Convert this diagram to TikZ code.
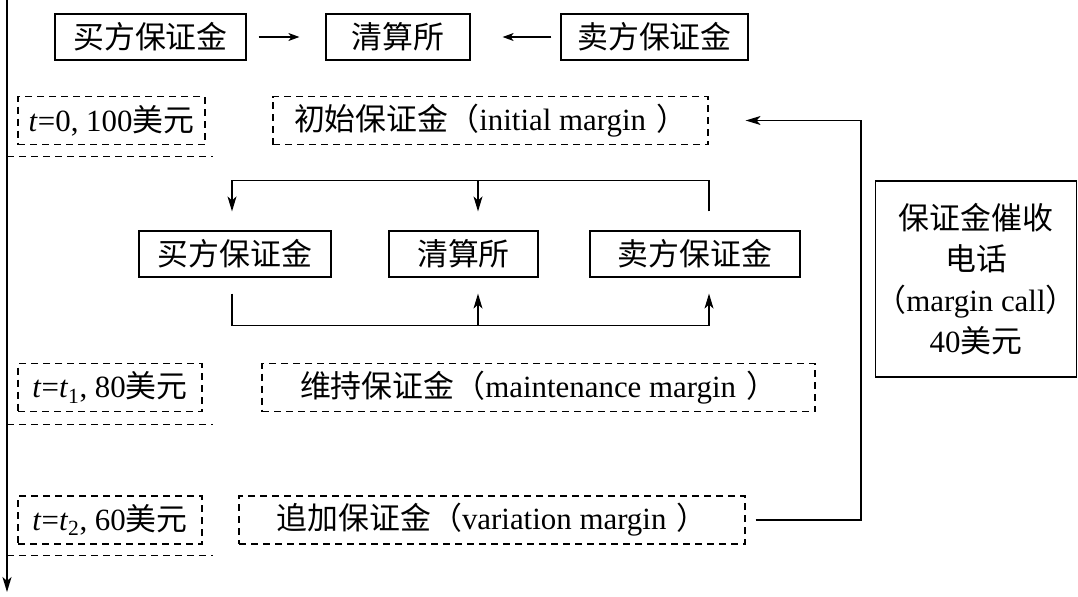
\documentclass[tikz,border=0pt]{standalone}
\usepackage{fontspec}
\setmainfont{Liberation Serif}
\newfontfamily\cjk{Noto Sans CJK SC}
\usepackage{tikz}
\usetikzlibrary{arrows.meta}
\newcommand{\rparen}{\hspace{10bp}{\cjk ）}}

\begin{document}
\begin{tikzpicture}[>={Stealth[length=15bp,width=9bp,inset=4bp]},
  solidbox/.style={draw,line width=1.2bp,inner sep=0pt,minimum height=46bp,font=\fontsize{31}{41}\selectfont},
  dashbox/.style={draw,line width=1.2bp,dash pattern=on 7bp off 5bp,inner sep=0pt,minimum height=48bp,font=\fontsize{31}{41}\selectfont},
  sepline/.style={line width=1.2bp,dash pattern=on 7bp off 5bp},
  flow/.style={->,line width=1.2bp},
  smallflow/.style={-{Stealth[length=11bp,width=8bp,inset=3bp]},line width=1.2bp}]

\useasboundingbox (0,0) rectangle (1078bp,-597bp);

\coordinate (axtop) at (7bp,0bp);
\coordinate (axend) at (7bp,-592bp);
\draw [flow,line width=1.6bp] (axtop) -- (axend);

\node (B1) at (150.5bp,-37bp)[solidbox,minimum width=191bp] {\cjk 买方保证金};
\node (C1) at (398bp,-37bp)[solidbox,minimum width=144bp] {\cjk 清算所};
\node (S1) at (654.5bp,-37bp)[solidbox,minimum width=187bp] {\cjk 卖方保证金};
\draw [smallflow,shorten <=12bp,shorten >=26bp] (B1) -- (C1);
\draw [smallflow,shorten <=9bp,shorten >=32bp] (S1) -- (C1);

\node (T0) at (111.5bp,-120.5bp)[dashbox,minimum width=187bp] {\textit{t}=0, 100{\cjk 美元}};
\node (IM) at (490.5bp,-120.5bp)[dashbox,minimum width=435bp] {{\cjk 初始保证金（}initial margin\rparen};
\draw [sepline] ([yshift=-11bp]T0.south -| axtop) -- ++(206bp,0);

\node (B2) at (235bp,-254bp)[solidbox,minimum width=192bp] {\cjk 买方保证金};
\node (C2) at (463.5bp,-254bp)[solidbox,minimum width=149bp] {\cjk 清算所};
\node (S2) at (695bp,-254bp)[solidbox,minimum width=210bp] {\cjk 卖方保证金};
\draw [flow,shorten <=19bp,shorten >=19bp] ([xshift=14bp]S2.north) -- ++(0,50bp) -| ([xshift=-3bp]B2.north);
\draw [flow,shorten >=19bp] ([xshift=14.5bp]C2.north) ++(0,50bp) -- ([xshift=14.5bp]C2.north);
\draw [flow,shorten <=16bp,shorten >=16bp] ([xshift=-3bp]B2.south) -- ++(0,-48bp) -| ([xshift=14bp]S2.south);
\draw [flow,shorten >=16bp] ([xshift=14.5bp]C2.south) ++(0,-48bp) -- ([xshift=14.5bp]C2.south);

\node (T1) at (110bp,-387.5bp)[dashbox,minimum width=184bp] {\textit{t}=\textit{t}\textsubscript{1}, 80{\cjk 美元}};
\node (MM) at (538.5bp,-387.5bp)[dashbox,minimum width=553bp] {{\cjk 维持保证金（}maintenance margin\rparen};
\draw [sepline] ([yshift=-12bp]T1.south -| axtop) -- ++(206bp,0);

\node (T2) at (110bp,-520bp)[dashbox,minimum width=184bp] {\textit{t}=\textit{t}\textsubscript{2}, 60{\cjk 美元}};
\node (VM) at (492bp,-520bp)[dashbox,minimum width=506bp] {{\cjk 追加保证金（}variation margin\rparen};
\draw [sepline] ([yshift=-11bp]T2.south -| axtop) -- ++(206bp,0);

\node (MC) at (976bp,-279bp)[solidbox,minimum width=200bp,minimum height=196bp,align=center] {{\cjk 保证金催收}\\{\cjk 电话}\\{\cjk （}margin call{\cjk ）}\\40{\cjk 美元}};
\draw [flow,shorten <=10bp,shorten >=37bp] (VM.east) -| ([xshift=-14bp]MC.west) |- (IM.east);
\end{tikzpicture}
\end{document}
